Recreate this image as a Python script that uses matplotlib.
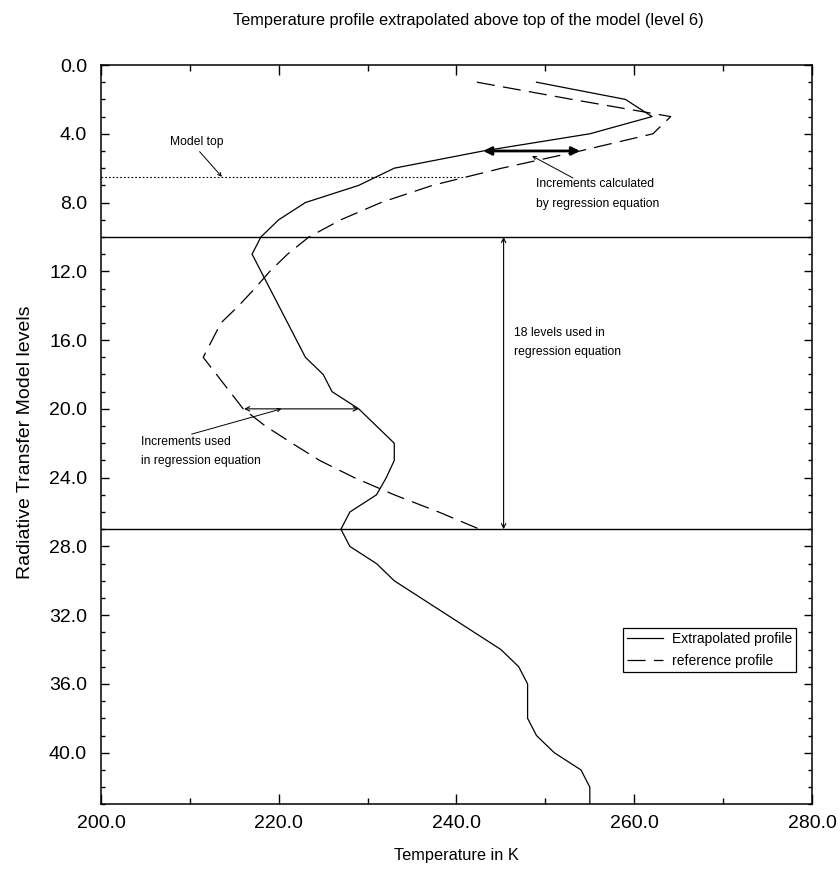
import matplotlib
matplotlib.use("Agg")
import matplotlib.pyplot as plt
from matplotlib import font_manager
from matplotlib.ticker import MultipleLocator, FormatStrFormatter

plt.rcParams["font.family"] = ["Liberation Sans", "DejaVu Sans"]
plt.rcParams["lines.scale_dashes"] = False

_names = {f.name for f in font_manager.fontManager.ttflist}
if "Liberation Sans Narrow" in _names:
    NARROW = ["Liberation Sans Narrow", "Liberation Sans", "DejaVu Sans"]
    K = 1.0 / 0.82
else:
    NARROW = ["Liberation Sans", "DejaVu Sans"]
    K = 1.0

# ---- data ----
levels_extrap = list(range(1, 44))
temp_extrap = [249.0, 259.0, 262.0, 255.0, 243.0, 233.0, 229.0, 223.0, 220.0, 218.0,
               217.0, 218.0, 219.0, 220.0, 221.0, 222.0, 223.0, 225.0, 226.0, 229.0,
               231.0, 233.0, 233.0, 232.1, 231.0, 228.0, 227.0, 228.0, 231.0, 233.0,
               236.0, 239.0, 242.0, 245.0, 247.0, 248.0, 248.0, 248.0, 249.0, 251.0,
               254.0, 255.0, 255.0]

levels_ref = list(range(1, 28))
temp_ref = [242.3, 253.0, 264.1, 262.1, 253.9, 245.1, 237.3, 231.5, 227.0, 223.4,
            221.0, 219.0, 217.3, 215.5, 213.5, 212.5, 211.5, 213.0, 214.5, 216.0,
            218.5, 221.5, 224.6, 228.5, 233.0, 238.0, 242.6]

regression_levels = [10, 27]
model_top_level = 6.5
model_top_temp_end = 240.8
calc_increment_level = 5.0
calc_increment_temps = [243.0, 253.9]
used_increment_level = 20.0
used_increment_temps = [216.1, 229.0]
regression_arrow_temp = 245.3

series_labels = ["Extrapolated profile", "reference profile"]
title_text = "Temperature profile extrapolated above top of the model (level 6)"

# ---- figure ----
fig = plt.figure(figsize=(8.4, 8.75), dpi=100)
ax = fig.add_axes([0.1202, 0.0808, 0.8465, 0.8449])

ax.plot(temp_extrap, levels_extrap, color="black", lw=0.9, label=series_labels[0])
ax.plot(temp_ref, levels_ref, color="black", lw=0.9, linestyle=(0, (13, 6)),
        label=series_labels[1])

for lv in regression_levels:
    ax.axhline(lv, color="black", lw=1.0)

ax.plot([200, model_top_temp_end], [model_top_level, model_top_level],
        color="black", lw=0.8, linestyle=(0, (1.2, 1.5)))

# thick double arrow (increments calculated)
ax.annotate("", xy=(calc_increment_temps[1], calc_increment_level),
            xytext=(calc_increment_temps[0], calc_increment_level),
            arrowprops=dict(arrowstyle="<|-|>", lw=2.0, color="black",
                            mutation_scale=12, shrinkA=0, shrinkB=0))
# thin double arrow (increments used)
ax.annotate("", xy=(used_increment_temps[1], used_increment_level),
            xytext=(used_increment_temps[0], used_increment_level),
            arrowprops=dict(arrowstyle="<->", lw=0.8, color="black",
                            mutation_scale=8, shrinkA=0, shrinkB=0))
# vertical arrow (18 levels)
ax.annotate("", xy=(regression_arrow_temp, regression_levels[1]),
            xytext=(regression_arrow_temp, regression_levels[0]),
            arrowprops=dict(arrowstyle="<->", lw=0.8, color="black",
                            mutation_scale=8, shrinkA=0, shrinkB=0))

# pointers
ax.annotate("", xy=(213.6, model_top_level), xytext=(211.1, 5.04),
            arrowprops=dict(arrowstyle="->", lw=0.7, color="black",
                            mutation_scale=6, shrinkA=0, shrinkB=0))
ax.annotate("", xy=(248.5, 5.29), xytext=(253.1, 6.57),
            arrowprops=dict(arrowstyle="->", lw=0.7, color="black",
                            mutation_scale=6, shrinkA=0, shrinkB=0))
ax.annotate("", xy=(220.3, used_increment_level), xytext=(210.2, 21.47),
            arrowprops=dict(arrowstyle="->", lw=0.7, color="black",
                            mutation_scale=6, shrinkA=0, shrinkB=0))

fs_ann = 8.7 * K
tk = dict(fontsize=fs_ann, family=NARROW, va="center")
ax.text(210.75, 4.46, "Model top", ha="center", **tk)
ax.text(249.0, 6.92, "Increments calculated", ha="left", **tk)
ax.text(249.0, 8.08, "by regression equation", ha="left", **tk)
ax.text(246.5, 15.6, "18 levels used in", ha="left", **tk)
ax.text(246.5, 16.67, "regression equation", ha="left", **tk)
ax.text(204.5, 21.94, "Increments used", ha="left", **tk)
ax.text(204.5, 23.06, "in regression equation", ha="left", **tk)

ax.set_xlim(200, 280)
ax.set_ylim(43, 0)
ax.xaxis.set_major_locator(MultipleLocator(20))
ax.xaxis.set_minor_locator(MultipleLocator(10))
ax.yaxis.set_major_locator(MultipleLocator(4))
ax.yaxis.set_minor_locator(MultipleLocator(1))
ax.xaxis.set_major_formatter(FormatStrFormatter("%.1f"))
ax.yaxis.set_major_formatter(FormatStrFormatter("%.1f"))
ax.tick_params(which="both", direction="in", top=True, right=True, width=1.0,
               labelsize=14)
ax.tick_params(axis="x", which="major", length=7, pad=8)
ax.tick_params(axis="x", which="minor", length=4)
ax.tick_params(axis="y", which="major", length=6, pad=10)
ax.tick_params(axis="y", which="minor", length=3)
for s in ax.spines.values():
    s.set_linewidth(1.1)

ax.set_xlabel("Temperature in K", fontsize=11.8 * K, family=NARROW, labelpad=11)
ax.set_ylabel("Radiative Transfer Model levels", fontsize=14.0 * K, family=NARROW,
              labelpad=6)
ax.yaxis.set_label_coords(-0.094, 0.49)
fig.text(0.558, 0.977, title_text, fontsize=11.8 * K, family=NARROW,
         ha="center", va="center")

leg = ax.legend(loc="upper right", bbox_to_anchor=(0.9775, 0.2385),
                borderaxespad=0, prop=dict(family=NARROW, size=10 * K),
                frameon=True, fancybox=False,
                edgecolor="black", framealpha=1, handlelength=2.6,
                handletextpad=0.6, borderpad=0.3, labelspacing=0.55)
leg.get_frame().set_linewidth(0.9)

fig.savefig("out.png", dpi=100)
